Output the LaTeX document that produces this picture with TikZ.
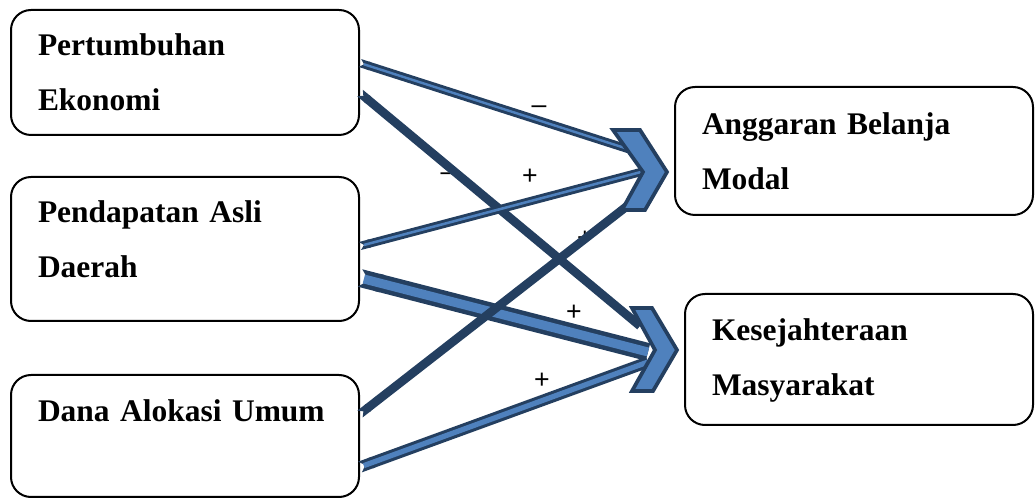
\documentclass[tikz,border=0pt]{standalone}
\usepackage{fontspec}
\setmainfont{Liberation Serif}
\newfontfamily\signfont{Liberation Sans}
\usetikzlibrary{arrows.meta}
\definecolor{chevblue}{HTML}{4F81BD}
\definecolor{edgeblue}{HTML}{243F60}

\begin{document}
\begin{tikzpicture}[x=0.75pt, y=-0.75pt,
  varbox/.style={rectangle, draw, line width=1.5pt, rounded corners=15pt, inner xsep=20.25pt, align=left, font=\fontsize{23.6}{41.6}\selectfont\bfseries},
  sign/.style={font=\signfont\fontsize{20}{20}\selectfont, inner sep=0pt},
  darklink/.style={draw=edgeblue, line width=#1, {Triangle Cap[reversed]}-},
  lightcore/.style={draw=chevblue, line width=#1, shorten <=3pt},
  chevron/.style={draw=edgeblue, fill=chevblue, line width=2.8pt, line join=miter}]

\useasboundingbox (0,0) rectangle (1035,498);

% variables
\node[varbox, text width=220.5pt, minimum height=93.75pt] (growth) at (185,72.5) {Pertumbuhan\\Ekonomi};
\node[varbox, text width=220.5pt, minimum height=108pt, text depth=56.6pt] (pad) at (185,249) {Pendapatan Asli\\Daerah};
\node[varbox, text width=220.5pt, minimum height=91.5pt, text depth=37.5pt] (dau) at (185,436) {Dana Alokasi Umum};
\node[varbox, text width=228pt, minimum height=96pt] (capex) at (854,151) {Anggaran Belanja\\Modal};
\node[varbox, text width=220.5pt, minimum height=98.25pt, text depth=45.4pt] (welfare) at (859,359.5) {Kesejahteraan\\Masyarakat};

% signs
\node[sign] (neg1) at (539,110) {–};
\node[sign] (neg2) at (448,177) {–};
\node[sign] (pos1) at (530,177) {+};
\node[sign] (pos2) at (585,239) {+};
\node[sign] (pos3) at (574,313) {+};
\node[sign] (pos4) at (542,381) {+};

% arrow ends under the chevrons
\coordinate (inA1) at (628,149);
\coordinate (inA3) at (641,172);
\coordinate (inA5) at (640,196);
\coordinate (inB2) at (640,326);
\coordinate (inB4) at (648,352);
\coordinate (inB6) at (648,362);

\draw[darklink=6.2pt] ([yshift=7.1pt]growth.east) -- (inA1);
\draw[lightcore=1.8pt] ([yshift=7.1pt]growth.east) -- (inA1);
\draw[darklink=6.5pt] ([yshift=-15.4pt]growth.east) -- (inB2);
\draw[darklink=6.2pt] ([yshift=2.25pt]pad.east) -- (inA3);
\draw[lightcore=1.9pt] ([yshift=2.25pt]pad.east) -- (inA3);
\draw[darklink=13.5pt] ([yshift=-21.75pt]pad.east) -- (inB4);
\draw[lightcore=6.75pt] ([yshift=-21.75pt]pad.east) -- (inB4);
\draw[darklink=6.5pt] ([yshift=16.5pt]dau.east) -- (inA5);
\draw[darklink=8.5pt] ([yshift=-23.25pt]dau.east) -- (inB6);
\draw[lightcore=3.9pt] ([yshift=-23.25pt]dau.east) -- (inB6);

% chevrons
\draw[chevron] (613,130) -- (640,130) -- (667,172) -- (645,210) -- (622,210) -- (643,172) -- cycle;
\draw[chevron] (632,308) -- (652,308) -- (677,350) -- (653,391) -- (632,391) -- (655,350) -- cycle;
\end{tikzpicture}
\end{document}
